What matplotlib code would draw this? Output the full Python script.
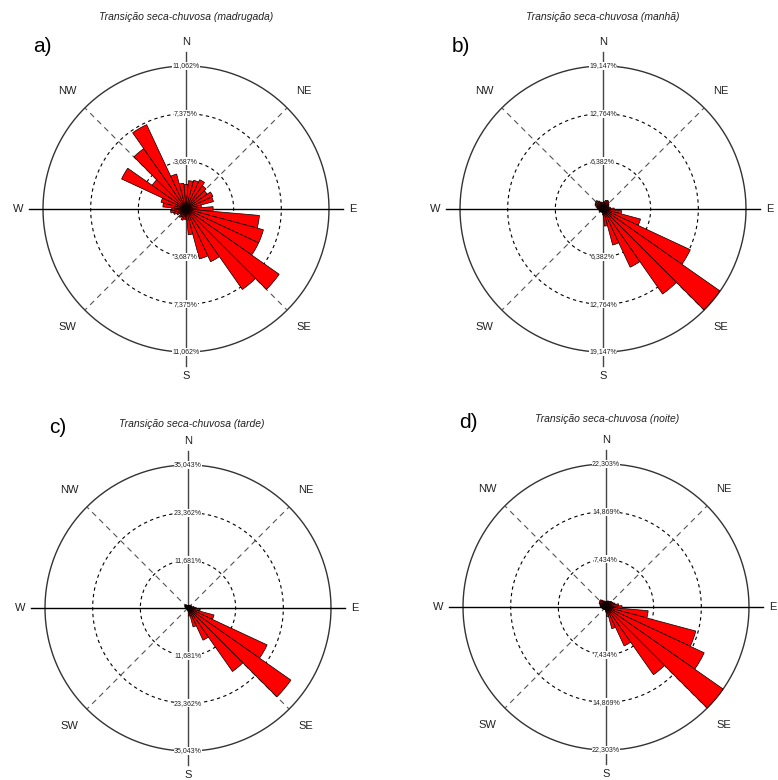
import numpy as np
import matplotlib
matplotlib.use("Agg")
import matplotlib.pyplot as plt

# direcoes (graus, a partir do norte, sentido horario) - setores de 10 graus
direcoes = np.arange(0, 360, 10)

# frequencias (%)
freq_madrugada = [1.9, 2.2, 2.3, 2.5, 2.2, 2.0, 2.3, 2.2, 1.2, 2.1, 5.7, 6.2,
                  6.2, 8.8, 7.6, 4.5, 4.0, 2.0, 0.8, 0.8, 0.9, 0.7, 0.8, 0.6,
                  0.8, 1.0, 1.2, 1.1, 1.8, 2.0, 5.5, 3.2, 5.7, 7.2, 2.8, 2.0]
freq_manha = [0.8, 1.0, 1.2, 1.3, 1.2, 1.0, 0.9, 0.8, 1.0, 1.5, 2.5, 5.2,
              12.9, 19.1, 13.9, 8.6, 5.0, 2.3, 0.8, 0.5, 0.4, 0.5, 0.4, 0.5,
              0.6, 0.5, 0.6, 0.7, 0.8, 1.0, 1.2, 1.3, 1.4, 1.2, 1.0, 0.9]
freq_tarde = [0.5, 0.6, 0.7, 0.8, 0.8, 0.9, 1.0, 1.0, 1.5, 2.0, 3.0, 6.6,
              21.4, 30.8, 19.0, 8.7, 4.8, 2.0, 0.8, 0.5, 0.4, 0.4, 0.3, 0.4,
              0.4, 0.5, 0.5, 0.6, 0.7, 0.8, 0.9, 1.0, 1.0, 0.9, 0.7, 0.6]
freq_noite = [0.8, 0.9, 1.0, 1.0, 1.1, 1.2, 1.3, 1.5, 2.0, 2.5, 6.6, 14.5,
              16.9, 22.3, 12.9, 6.7, 3.5, 1.5, 0.8, 0.5, 0.4, 0.4, 0.5, 0.5,
              0.6, 0.6, 0.7, 0.8, 0.9, 1.0, 1.2, 1.3, 1.4, 1.2, 1.0, 0.9]

titulos = ["Transição seca-chuvosa (madrugada)", "Transição seca-chuvosa (manhã)",
           "Transição seca-chuvosa (tarde)", "Transição seca-chuvosa (noite)"]
letras = ["a)", "b)", "c)", "d)"]
rmax = [11.062, 19.147, 35.043, 22.303]
rotulos_raio = [["3,687%", "7,375%", "11,062%"],
                ["6,382%", "12,764%", "19,147%"],
                ["11,681%", "23,362%", "35,043%"],
                ["7,434%", "14,869%", "22,303%"]]
pontos = ["N", "NE", "E", "SE", "S", "SW", "W", "NW"]

# centros dos graficos em pixels (x, y a partir do topo)
centros = [(186, 209), (603, 209), (188, 608), (606, 607)]
pos_titulo = [(186, 17), (603, 17), (192, 424), (607, 419)]
pos_letra = [(42, 47), (461, 47), (58, 427), (468, 422)]

W, H = 778, 780
R = 143.0          # raio do circulo externo em pixels
fator = 1.2        # espaco extra para os rotulos

fig = plt.figure(figsize=(W / 100, H / 100), dpi=100)
plt.rcParams['font.family'] = ['Liberation Sans', 'DejaVu Sans']

dados = [freq_madrugada, freq_manha, freq_tarde, freq_noite]

for i in range(4):
    cx, cy = centros[i]
    rr = R * fator
    ax = fig.add_axes([(cx - rr) / W, (H - cy - rr) / H, 2 * rr / W, 2 * rr / H],
                      projection='polar')
    ax.set_theta_zero_location('N')
    ax.set_theta_direction(-1)
    ax.set_ylim(0, rmax[i] * fator)
    ax.axis('off')

    m = rmax[i]
    t = np.linspace(0, 2 * np.pi, 400)

    # circulos
    ax.plot(t, np.full_like(t, m), color='#333333', lw=1.0, zorder=1)
    for k in [1, 2]:
        ax.plot(t, np.full_like(t, m * k / 3), color='black', lw=0.8,
                ls=(0, (3, 3)), zorder=1)

    # diagonais tracejadas
    for ang in [45, 135, 225, 315]:
        a = np.deg2rad(ang)
        ax.plot([a, a], [0, m], color='#555555', lw=0.8, ls=(0, (5, 4)), zorder=1)

    # eixos N-S e E-W
    for ang in [0, 180]:
        a = np.deg2rad(ang)
        ax.plot([a, a], [0, m * 1.1], color='#444444', lw=1.0, zorder=2)
    for ang in [90, 270]:
        a = np.deg2rad(ang)
        ax.plot([a, a], [0, m * 1.1], color='black', lw=1.0, zorder=2)

    # barras
    ax.bar(np.deg2rad(direcoes), dados[i], width=np.deg2rad(10), bottom=0,
           color='#FF0000', edgecolor='black', linewidth=0.5, zorder=3)

    # rotulos dos circulos (N e S)
    for k in range(3):
        r = m * (k + 1) / 3
        for ang in [0, np.pi]:
            ax.text(ang, r, rotulos_raio[i][k], fontsize=5, color='#222222',
                    ha='center', va='center', zorder=4,
                    bbox=dict(facecolor='white', edgecolor='none', pad=0.3))

    # pontos cardeais
    for j, p in enumerate(pontos):
        a = np.deg2rad(j * 45)
        ax.text(a, m * 1.17, p, fontsize=8, color='#222222',
                ha='center', va='center')

    tx, ty = pos_titulo[i]
    fig.text(tx / W, 1 - ty / H, titulos[i], fontsize=7.5, style='italic',
             color='#222222', ha='center', va='center')
    lx, ly = pos_letra[i]
    fig.text(lx / W, 1 - ly / H, letras[i], fontsize=15, color='black',
             ha='center', va='center')

fig.savefig('out.png', dpi=100)
